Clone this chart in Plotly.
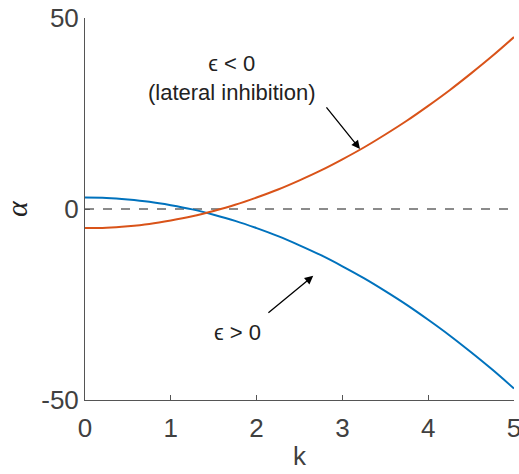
import plotly.graph_objects as go

k = [0, 0.25, 0.5, 0.75, 1, 1.25, 1.5, 1.75, 2, 2.25, 2.5, 2.75, 3, 3.25, 3.5, 3.75, 4, 4.25, 4.5, 4.75, 5]
alpha_neg_eps = [-5, -4.9, -4.5, -3.9, -3, -1.9, -0.5, 1.1, 3, 5.1, 7.5, 10.1, 13, 16.1, 19.5, 23.1, 27, 31.1, 35.5, 40.1, 45]
alpha_pos_eps = [3, 2.9, 2.5, 1.9, 1, -0.1, -1.5, -3.1, -5, -7.1, -9.5, -12.1, -15, -18.1, -21.5, -25.1, -29, -33.1, -37.5, -42.1, -47]
x_ticks = [0, 1, 2, 3, 4, 5]
y_ticks = [-50, 0, 50]
y_ticktext = ["-50", "0", "50"]

axis_color = "#555555"
text_color = "#404040"
font_family = "Liberation Sans, Arial, sans-serif"

fig = go.Figure()
fig.add_trace(go.Scatter(x=k, y=alpha_pos_eps, mode="lines", line=dict(color="#0072BD", width=2), line_shape="spline"))
fig.add_trace(go.Scatter(x=k, y=alpha_neg_eps, mode="lines", line=dict(color="#D95319", width=2), line_shape="spline"))

fig.add_shape(type="line", xref="x", yref="y", x0=0, x1=5, y0=0, y1=0,
              line=dict(color="#666666", width=1.3, dash="dash"), layer="below")

fig.add_annotation(x=1.71, y=34.3, text="ϵ < 0<br>(lateral inhibition)", showarrow=False,
                   font=dict(size=22, color="#222222", family=font_family), xanchor="center", yanchor="middle")
fig.add_annotation(x=1.78, y=-32.2, text="ϵ > 0", showarrow=False,
                   font=dict(size=22, color="#222222", family=font_family), xanchor="center", yanchor="middle")

fig.add_annotation(x=3.205, y=15.7, ax=2.80, ay=27.0, axref="x", ayref="y", text="",
                   showarrow=True, arrowhead=2, arrowsize=1.3, arrowwidth=1.3, arrowcolor="#000000")
fig.add_annotation(x=2.66, y=-17.5, ax=2.12, ay=-27.5, axref="x", ayref="y", text="",
                   showarrow=True, arrowhead=2, arrowsize=1.3, arrowwidth=1.3, arrowcolor="#000000")

fig.update_layout(
    width=519, height=474,
    margin=dict(l=85, r=5, t=18, b=74, autoexpand=False),
    paper_bgcolor="white", plot_bgcolor="white",
    showlegend=False,
    font=dict(family=font_family, color=text_color, size=26),
)
fig.update_xaxes(range=[0, 5], tickvals=x_ticks, ticks="inside", ticklen=5, tickcolor=axis_color,
                 showline=True, linecolor=axis_color, linewidth=1, showgrid=False, zeroline=False,
                 automargin=False, ticklabeloverflow="allow", ticklabelstandoff=5,
                 tickfont=dict(size=26, color=text_color),
                 title=dict(text="k", font=dict(size=26, color=text_color), standoff=4))
fig.update_yaxes(range=[-50, 50], tickvals=y_ticks, ticktext=y_ticktext, ticks="inside", ticklen=5, tickcolor=axis_color,
                 showline=True, linecolor=axis_color, linewidth=1, showgrid=False, zeroline=False,
                 automargin=False, ticklabeloverflow="allow",
                 tickfont=dict(size=26, color=text_color),
                 title=dict(text="<i>α</i>", font=dict(size=30, color="#222222", family="Liberation Serif, serif"), standoff=22))

fig.write_html("out.html", post_script="document.body.style.margin='0';",
               config={"displayModeBar": False})
